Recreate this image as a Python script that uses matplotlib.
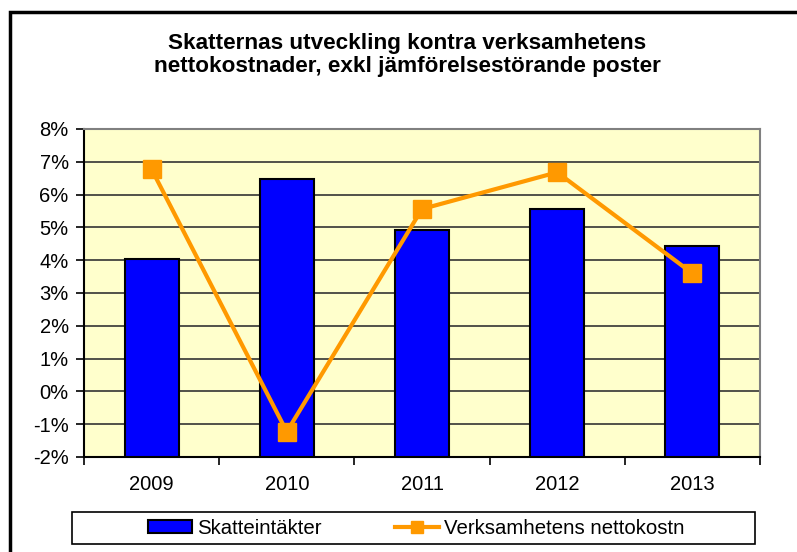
import numpy as np
import matplotlib.pyplot as plt
from matplotlib.patches import Rectangle
from matplotlib.ticker import FixedLocator, FuncFormatter

# data (percent)
years = ['2009', '2010', '2011', '2012', '2013']
skatt = [4.05, 6.47, 4.93, 5.55, 4.43]        # Skatteintäkter
netto = [6.77, -1.23, 5.56, 6.68, 3.60]       # Verksamhetens nettokostn
y_ticks = list(range(-2, 9))

plt.rcParams['font.family'] = ['Liberation Sans', 'DejaVu Sans']

fig = plt.figure(figsize=(7.97, 5.52), dpi=100)
ax = fig.add_axes([84/797, 1-457/552, (760-84)/797, (457-129)/552])

# outer chart frame (cut off at right and bottom like the reference)
fig.patches.append(Rectangle((10/797, -0.05), 1.2, 1.05-12/552, transform=fig.transFigure,
                             fill=False, edgecolor='black', linewidth=2.5, zorder=0))

x = np.arange(len(years))
ymin = y_ticks[0]
ax.set_facecolor('#FFFFCC')
bars = ax.bar(x, [v - ymin for v in skatt], bottom=ymin, width=0.4, color='#0000FF',
              edgecolor='black', linewidth=1.5, label='Skatteintäkter', zorder=3)
line, = ax.plot(x, netto, color='#FF9900', linewidth=3, marker='s', markersize=13,
                label='Verksamhetens nettokostn', zorder=4)

ax.set_xlim(-0.5, 4.5)
ax.set_ylim(-2, 8)
ax.set_yticks(y_ticks)
ax.yaxis.set_major_formatter(FuncFormatter(lambda v, p: '%d%%' % v))
ax.set_xticks(x)
ax.set_xticklabels(years)
ax.xaxis.set_minor_locator(FixedLocator(np.arange(-0.5, 5, 1)))
ax.tick_params(axis='x', which='major', length=0, pad=13, labelsize=14.5)
ax.tick_params(axis='x', which='minor', length=6, width=1.2, color='black')
ax.tick_params(axis='y', length=6, width=1.2, labelsize=14.5, pad=5)
ax.grid(axis='y', color='#333333', linewidth=1.2, zorder=1)
ax.set_axisbelow(True)

ax.spines['left'].set_color('black')
ax.spines['bottom'].set_color('black')
ax.spines['left'].set_linewidth(1.5)
ax.spines['bottom'].set_linewidth(1.5)
ax.spines['top'].set_color('#808080')
ax.spines['right'].set_color('#808080')
ax.spines['top'].set_linewidth(1.5)
ax.spines['right'].set_linewidth(1.5)

fig.text(407/797, 1-55/552, 'Skatternas utveckling kontra verksamhetens\nnettokostnader, exkl jämförelsestörande poster',
         ha='center', va='center', fontsize=16.2, fontweight='bold', linespacing=1.15)

# legend box drawn separately so its size matches the reference
fig.patches.append(Rectangle((72/797, 1-544/552), (755-72)/797, 32/552, transform=fig.transFigure,
                             fill=True, facecolor='white', edgecolor='black', linewidth=1.2, zorder=1))
leg = fig.legend(handles=[bars, line], loc='center', bbox_to_anchor=(416/797, 1-528/552), ncol=2,
                 frameon=False, fontsize=14.7, columnspacing=3.6, handlelength=2.15, handletextpad=0.25,
                 handleheight=0.6, markerscale=0.67, borderpad=0)
leg.set_zorder(2)

plt.savefig('out.png', dpi=100)
